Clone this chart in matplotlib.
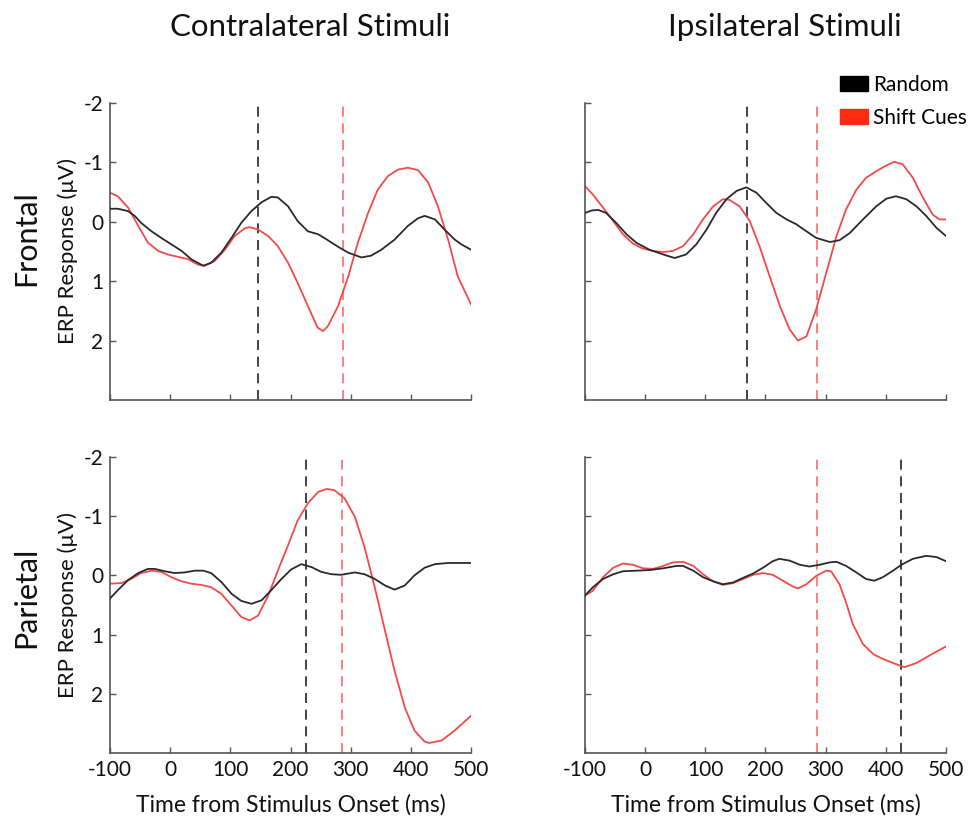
import matplotlib
matplotlib.use("Agg")
import matplotlib.pyplot as plt
from matplotlib.patches import Patch

plt.rcParams['font.family'] = ['Lato', 'DejaVu Sans']
plt.rcParams['axes.unicode_minus'] = False

# ---------------- data ----------------
# Frontal, contralateral
fc_rand_t = [-100, -87, -70, -59, -48, -31, -15, 2, 19, 35, 55, 68, 85, 102, 118, 135, 152, 168, 179, 196, 212, 229, 246, 259, 279, 296, 318, 334, 351, 373, 395, 412, 423, 440, 456, 473, 484, 500]
fc_rand_v = [-0.22, -0.22, -0.18, -0.10, 0.02, 0.16, 0.27, 0.38, 0.49, 0.63, 0.74, 0.69, 0.52, 0.27, 0.02, -0.18, -0.33, -0.42, -0.41, -0.26, -0.01, 0.16, 0.21, 0.29, 0.42, 0.52, 0.60, 0.57, 0.47, 0.30, 0.07, -0.06, -0.10, -0.04, 0.13, 0.30, 0.38, 0.47]
fc_shift_t = [-100, -87, -70, -53, -37, -20, -4, 13, 30, 46, 57, 74, 91, 107, 124, 132, 146, 163, 179, 196, 212, 229, 245, 254, 262, 279, 296, 312, 329, 345, 362, 379, 395, 412, 429, 445, 462, 478, 500]
fc_shift_v = [-0.49, -0.43, -0.24, 0.07, 0.35, 0.49, 0.55, 0.59, 0.63, 0.72, 0.74, 0.66, 0.47, 0.24, 0.11, 0.09, 0.13, 0.24, 0.41, 0.69, 1.03, 1.42, 1.78, 1.84, 1.76, 1.42, 0.92, 0.35, -0.15, -0.54, -0.77, -0.88, -0.91, -0.87, -0.66, -0.26, 0.30, 0.92, 1.39]

# Frontal, ipsilateral
fi_rand_t = [-100, -89, -78, -65, -48, -31, -15, 7, 30, 49, 68, 85, 102, 118, 135, 152, 168, 185, 201, 218, 235, 251, 268, 284, 307, 323, 340, 362, 384, 401, 417, 434, 451, 467, 484, 500]
fi_rand_v = [-0.15, -0.19, -0.20, -0.15, 0.02, 0.21, 0.35, 0.47, 0.55, 0.61, 0.55, 0.38, 0.13, -0.15, -0.38, -0.52, -0.58, -0.49, -0.32, -0.15, -0.04, 0.04, 0.16, 0.27, 0.34, 0.31, 0.19, -0.04, -0.26, -0.39, -0.43, -0.38, -0.26, -0.10, 0.10, 0.24]
fi_shift_t = [-100, -87, -70, -53, -37, -20, -4, 13, 30, 46, 63, 80, 96, 113, 129, 140, 157, 174, 190, 207, 224, 240, 254, 268, 284, 301, 318, 334, 351, 367, 384, 401, 414, 428, 445, 462, 478, 489, 500]
fi_shift_v = [-0.60, -0.46, -0.24, -0.01, 0.21, 0.37, 0.45, 0.49, 0.51, 0.49, 0.41, 0.21, -0.04, -0.26, -0.38, -0.37, -0.26, -0.01, 0.41, 0.92, 1.42, 1.81, 2.00, 1.93, 1.48, 0.86, 0.24, -0.21, -0.54, -0.74, -0.85, -0.95, -1.01, -0.97, -0.74, -0.40, -0.12, -0.04, -0.04]

# Parietal, contralateral
pc_rand_t = [-100, -87, -70, -53, -37, -26, -9, 7, 24, 41, 55, 68, 85, 102, 118, 135, 152, 168, 185, 201, 218, 235, 251, 268, 284, 307, 323, 340, 357, 373, 390, 406, 423, 440, 462, 500]
pc_rand_v = [0.39, 0.25, 0.08, -0.04, -0.11, -0.11, -0.07, -0.04, -0.05, -0.08, -0.08, -0.04, 0.11, 0.31, 0.43, 0.48, 0.42, 0.25, 0.06, -0.10, -0.19, -0.14, -0.06, -0.02, -0.01, -0.05, -0.02, 0.06, 0.17, 0.24, 0.17, 0.00, -0.13, -0.19, -0.21, -0.21]
pc_shift_t = [-100, -81, -65, -48, -31, -15, 2, 19, 35, 52, 68, 85, 102, 118, 132, 146, 163, 179, 196, 212, 229, 246, 260, 273, 290, 307, 323, 340, 357, 373, 390, 406, 423, 431, 451, 473, 500]
pc_shift_v = [0.14, 0.13, 0.06, -0.04, -0.08, -0.06, 0.03, 0.10, 0.14, 0.16, 0.20, 0.31, 0.51, 0.70, 0.76, 0.68, 0.34, -0.08, -0.51, -0.93, -1.22, -1.41, -1.46, -1.44, -1.30, -0.99, -0.48, 0.20, 0.93, 1.61, 2.23, 2.62, 2.81, 2.83, 2.79, 2.62, 2.37]

# Parietal, ipsilateral
pi_rand_t = [-100, -87, -70, -53, -37, -15, 7, 30, 52, 63, 80, 96, 113, 129, 146, 163, 179, 196, 212, 223, 240, 257, 273, 290, 307, 318, 334, 351, 367, 381, 395, 412, 426, 445, 467, 484, 500]
pi_rand_v = [0.34, 0.20, 0.06, -0.02, -0.07, -0.08, -0.09, -0.12, -0.16, -0.16, -0.08, 0.03, 0.10, 0.15, 0.12, 0.04, -0.03, -0.13, -0.24, -0.28, -0.25, -0.18, -0.15, -0.18, -0.22, -0.23, -0.16, -0.05, 0.06, 0.09, 0.03, -0.08, -0.18, -0.28, -0.33, -0.31, -0.24]
pi_shift_t = [-100, -87, -70, -53, -37, -20, -4, 13, 30, 46, 63, 80, 96, 113, 129, 146, 163, 179, 196, 212, 229, 246, 254, 268, 284, 301, 309, 323, 334, 345, 362, 379, 395, 412, 431, 451, 473, 500]
pi_shift_v = [0.34, 0.26, 0.03, -0.13, -0.20, -0.18, -0.12, -0.11, -0.16, -0.22, -0.23, -0.16, -0.02, 0.10, 0.16, 0.13, 0.06, -0.01, -0.04, -0.01, 0.09, 0.19, 0.22, 0.15, 0.01, -0.08, -0.07, 0.15, 0.46, 0.82, 1.16, 1.33, 1.41, 1.48, 1.55, 1.48, 1.35, 1.20]

# vertical markers (ms): [Random, Shift Cues]
fc_marks = [146, 287]
fi_marks = [169, 285]
pc_marks = [226, 286]
pi_marks = [426, 285]

col_titles = ["Contralateral Stimuli", "Ipsilateral Stimuli"]
row_titles = ["Frontal", "Parietal"]
series_names = ["Random", "Shift Cues"]
x_ticks = [-100, 0, 100, 200, 300, 400, 500]
y_ticks = [-2, -1, 0, 1, 2]

BLACK = "#2a2a2a"
RED = "#f24a4a"
RED_DASH = "#ff6b6b"
LEG_RED = "#ff2a10"

# ---------------- figure ----------------
W, H = 978, 816
fig = plt.figure(figsize=(W / 100, H / 100), dpi=100)

def rect(x0, y0, x1, y1):
    return [x0 / W, 1 - y1 / H, (x1 - x0) / W, (y1 - y0) / H]

axes_pos = [[rect(110, 103, 471, 400), rect(585, 103, 946, 400)],
            [rect(110, 457, 471, 753), rect(585, 457, 946, 753)]]

panels = [[(fc_rand_t, fc_rand_v, fc_shift_t, fc_shift_v, fc_marks),
           (fi_rand_t, fi_rand_v, fi_shift_t, fi_shift_v, fi_marks)],
          [(pc_rand_t, pc_rand_v, pc_shift_t, pc_shift_v, pc_marks),
           (pi_rand_t, pi_rand_v, pi_shift_t, pi_shift_v, pi_marks)]]

for r in range(2):
    for c in range(2):
        ax = fig.add_axes(axes_pos[r][c])
        rt, rv, st, sv, marks = panels[r][c]
        ax.axvline(marks[0], color="#222222", lw=1.2, ls=(0, (6, 4)), zorder=1)
        ax.axvline(marks[1], color=RED_DASH, lw=1.2, ls=(0, (6, 4)), zorder=1)
        ax.plot(rt, rv, color=BLACK, lw=1.3, zorder=3, solid_joinstyle="round")
        ax.plot(st, sv, color=RED, lw=1.3, zorder=2, solid_joinstyle="round")
        ax.set_xlim(-100, 500)
        ax.set_ylim(3, -2)
        ax.set_xticks(x_ticks)
        ax.set_yticks(y_ticks)
        for s in ["top", "right"]:
            ax.spines[s].set_visible(False)
        for s in ["left", "bottom"]:
            ax.spines[s].set_color("#555555")
            ax.spines[s].set_linewidth(1.2)
        ax.tick_params(direction="in", length=4, width=1, color="#555555",
                       labelsize=15, pad=5, labelcolor="#111111")
        if r == 0:
            ax.set_xticklabels([])
        else:
            ax.set_xlabel("Time from Stimulus Onset (ms)", fontsize=16.5, labelpad=10, color="#111111")
        if c == 1:
            ax.set_yticklabels([])
        else:
            ax.set_ylabel("ERP Response (\u03bcV)", fontsize=16, labelpad=4, color="#111111")

for c, t in enumerate(col_titles):
    xc = [310, 785][c]
    fig.text(xc / W, 1 - 27 / H, t, ha="center", va="center", fontsize=22.5, color="#111111")

for r, t in enumerate(row_titles):
    yc = [238, 597][r]
    fig.text(26 / W, 1 - yc / H, t, ha="center", va="center", rotation=90, fontsize=22, color="#111111")

handles = [Patch(facecolor="black", edgecolor="black"), Patch(facecolor=LEG_RED, edgecolor=LEG_RED)]
fig.legend(handles, series_names, loc="upper left", bbox_to_anchor=(840 / W, 1 - 75 / H),
           frameon=False, fontsize=15, handlelength=1.35, handleheight=0.75, handletextpad=0.25,
           labelspacing=0.6, borderaxespad=0, borderpad=0)

fig.savefig("out.png", dpi=100)
